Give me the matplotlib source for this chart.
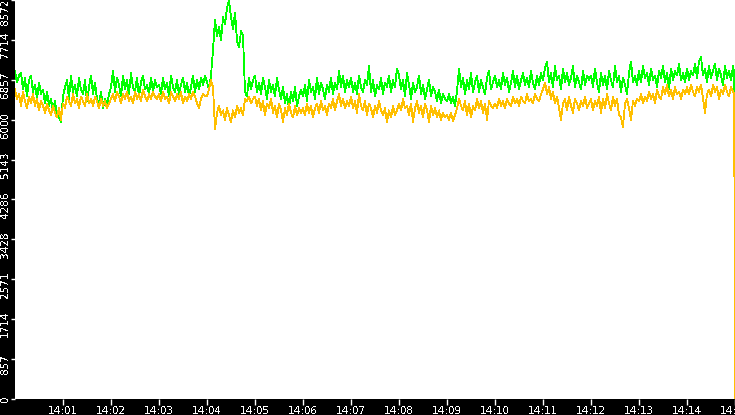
import numpy as np
import matplotlib
matplotlib.use('Agg')
import matplotlib.pyplot as plt
from matplotlib import transforms

# one row per minute (14:00 .. 14:14), a value every 2.5 s,
# then 14:14:59 and the drop at 14:15:00
green = [
    7050, 6800, 6950, 7000, 6650, 6900, 6500, 6850, 6950, 6600, 6750, 6450, 6800, 6550, 6650, 6350, 6600, 6300, 6450, 6200, 6400, 6100, 6050, 5950,
    6500, 6700, 6850, 6450, 6950, 6600, 6750, 6500, 6900, 6650, 6550, 6850, 6400, 6700, 6950, 6550, 6800, 6450, 6350, 6600, 6250, 6450, 6300, 6550,
    6700, 7050, 6600, 6900, 6750, 6500, 6950, 6650, 6850, 6550, 7000, 6700, 6600, 6900, 6500, 6800, 6950, 6650, 6750, 6550, 6900, 6600, 6850, 6700,
    6750, 6550, 6900, 6650, 6800, 6500, 6950, 6700, 6600, 6850, 6550, 6750, 6900, 6600, 6800, 6500, 6700, 6950, 6600, 6850, 6650, 6900, 6750, 6950,
    6800, 6650, 6950, 7500, 8150, 7800, 8000, 7700, 8200, 8050, 8400, 8572, 8200, 7950, 8300, 7700, 7550, 7900, 7800, 6600, 6500, 6900, 6650, 6850,
    6950, 6600, 6800, 6550, 6900, 6700, 6450, 6850, 6600, 6750, 6500, 6900, 6650, 6450, 6700, 6350, 6550, 6250, 6600, 6400, 6700, 6300, 6500, 6650,
    6500, 6750, 6400, 6850, 6600, 6700, 6450, 6900, 6550, 6800, 6650, 6450, 6750, 6600, 6900, 6550, 6800, 6650, 7050, 6700, 6950, 6600, 6850, 6700,
    6900, 6600, 6800, 6550, 6950, 6700, 6600, 6850, 6750, 7150, 6600, 6850, 6500, 6750, 6650, 6900, 6550, 6800, 6700, 6950, 6600, 6850, 6700, 7100,
    6950, 6650, 6850, 6500, 7000, 6750, 6450, 6800, 6600, 6700, 6950, 6550, 6750, 6450, 6650, 6850, 6500, 6700, 6600, 6400, 6650, 6350, 6550, 6450,
    6400, 6550, 6350, 6500, 6300, 6600, 7100, 6700, 6900, 6550, 6850, 6650, 7000, 6600, 6800, 6950, 6600, 6850, 6700, 6550, 6900, 7050, 6650, 6800,
    6950, 6700, 6850, 6650, 7000, 6750, 6900, 6600, 6800, 7050, 6700, 6950, 6650, 6850, 7000, 6750, 6900, 6700, 7050, 6800, 6650, 6950, 6750, 7000,
    6850, 7100, 7250, 6800, 7000, 6700, 7150, 6850, 6950, 6650, 7100, 6800, 7000, 6750, 6900, 7150, 6700, 6950, 6800, 6650, 7050, 6750, 6950, 6850,
    6950, 6700, 7100, 6800, 6600, 7000, 6750, 6950, 6650, 7050, 6850, 6700, 7150, 6800, 6950, 6600, 6900, 6750, 6550, 7000, 7250, 6800, 6950, 6750,
    7050, 6800, 7150, 6900, 7000, 6750, 7100, 6850, 6950, 6700, 7050, 6900, 7150, 6800, 7000, 6650, 7100, 6850, 7050, 6950, 7200, 6850, 7000, 6800,
    7100, 6850, 7050, 6950, 7200, 6900, 7250, 7350, 6950, 7100, 6800, 7150, 6900, 7050, 7200, 6850, 7100, 6950, 6750, 7150, 6900, 7050, 6850, 7150,
    7000, 3300,
]
orange = [
    6650, 6450, 6550, 6300, 6600, 6400, 6250, 6500, 6350, 6550, 6300, 6450, 6200, 6400, 6300, 6150, 6350, 6200, 6100, 6300, 6150, 6050, 6250, 6000,
    6350, 6250, 6500, 6400, 6300, 6550, 6350, 6450, 6250, 6500, 6400, 6300, 6550, 6350, 6450, 6300, 6500, 6400, 6250, 6450, 6300, 6400, 6250, 6350,
    6450, 6550, 6400, 6600, 6500, 6350, 6550, 6450, 6600, 6400, 6500, 6350, 6600, 6450, 6550, 6400, 6650, 6500, 6400, 6550, 6450, 6600, 6500, 6450,
    6550, 6400, 6600, 6450, 6500, 6350, 6600, 6500, 6400, 6550, 6450, 6600, 6350, 6500, 6400, 6550, 6450, 6600, 6500, 6350, 6250, 6450, 6550, 6500,
    6500, 6650, 6850, 6700, 5800, 6150, 6300, 6100, 6200, 6000, 6250, 6100, 5950, 6200, 6050, 6300, 6150, 6250, 6100, 6450, 6400, 6500, 6350, 6450,
    6500, 6300, 6450, 6200, 6400, 6100, 6350, 6250, 6450, 6150, 6300, 6050, 6350, 6200, 5950, 6250, 6100, 6350, 6150, 6050, 6300, 6100, 6250, 6150,
    6250, 6100, 6350, 6150, 6300, 6050, 6250, 6350, 6150, 6400, 6200, 6300, 6100, 6350, 6250, 6450, 6200, 6400, 6550, 6300, 6450, 6250, 6400, 6300,
    6500, 6250, 6400, 6150, 6550, 6300, 6200, 6400, 6100, 6350, 6250, 6050, 6300, 6150, 6400, 6200, 6100, 6250, 5950, 6200, 6050, 6300, 6100, 6200,
    6350, 6200, 6450, 6250, 6300, 6100, 6350, 5950, 6250, 6400, 6150, 6300, 6050, 6350, 6200, 5950, 6300, 6100, 6250, 6050, 6200, 6000, 6150, 6050,
    6100, 6000, 6150, 5980, 6100, 6250, 6450, 6300, 6200, 6400, 6100, 6350, 6050, 6300, 6200, 6450, 6250, 6400, 6150, 6350, 6000, 6400, 6300, 6250,
    6350, 6250, 6450, 6300, 6400, 6250, 6450, 6350, 6300, 6500, 6350, 6450, 6300, 6500, 6400, 6350, 6550, 6400, 6450, 6350, 6550, 6450, 6400, 6550,
    6650, 6800, 6550, 6700, 6450, 6600, 6350, 6500, 6250, 6000, 6350, 6450, 6200, 6500, 6300, 6150, 6450, 6350, 6200, 6400, 6300, 6500, 6250, 6350,
    6450, 6200, 6400, 6300, 6500, 6150, 6450, 6250, 6550, 6350, 6200, 6500, 6300, 6450, 6100, 6050, 5850, 6350, 6450, 6250, 6000, 6400, 6300, 6450,
    6400, 6550, 6350, 6500, 6400, 6600, 6450, 6550, 6350, 6650, 6500, 6450, 6700, 6550, 6750, 6500, 6650, 6450, 6700, 6550, 6600, 6450, 6650, 6550,
    6700, 6550, 6750, 6600, 6500, 6700, 6600, 6750, 6450, 6150, 6550, 6650, 6500, 6750, 6600, 6700, 6450, 6650, 6550, 6750, 6600, 6500, 6700, 6600,
    6550, 0,
]
time_labels = ['14:01', '14:02', '14:03', '14:04', '14:05', '14:06', '14:07',
               '14:08', '14:09', '14:10', '14:11', '14:12', '14:13', '14:14', '14:15']
y_ticks = [0, 857, 1714, 2571, 3428, 4286, 5143, 6000, 6857, 7714, 8572]

plt.rcParams['text.antialiased'] = False

t = np.append(np.arange(0, 900, 2.5), [899, 900])
tick_secs = [60 * (i + 1) for i in range(len(time_labels))]

fig = plt.figure(figsize=(7.35, 4.15), dpi=100, facecolor='black')
ax = fig.add_axes([15 / 735, 16 / 415, 720 / 735, 399 / 415])
ax.set_facecolor('white')

ax.plot(t, green, color='#00ff00', lw=0.6, antialiased=False)
ax.plot(t, orange, color='#ffbf00', lw=0.6, antialiased=False)

ax.set_xlim(0, 900)
ax.set_ylim(0, 8572)
ax.set_xticks(tick_secs)
ax.set_xticklabels(time_labels)
ax.set_yticks(y_ticks)
ax.set_yticklabels([str(v) for v in y_ticks], rotation=90, va='center')
ax.tick_params(colors='white', labelsize=7.5, width=1, direction='out')
ax.tick_params(axis='x', length=4.5, pad=0.5)
ax.tick_params(axis='y', length=3, pad=0.5)
for spine in ax.spines.values():
    spine.set_visible(False)

# labels on the left sit a little below their tick
for i, lab in enumerate(ax.get_yticklabels()):
    dy = 0 if i == 0 else (-12 if i == len(y_ticks) - 1 else -5)
    lab.set_transform(lab.get_transform() + transforms.ScaledTranslation(0, dy / 100, fig.dpi_scale_trans))

fig.savefig('out.png', dpi=100, facecolor='black')
